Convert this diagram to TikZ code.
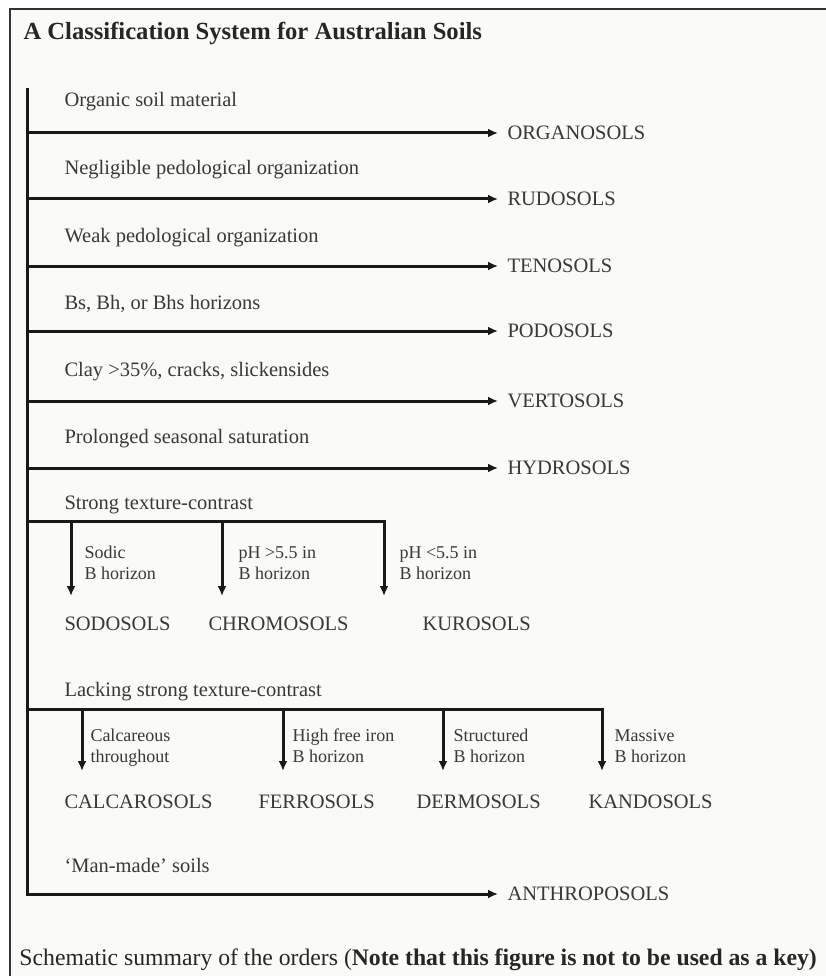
\documentclass[tikz,border=0pt]{standalone}
\usepackage{fontspec}
\setmainfont{Liberation Serif}
\usetikzlibrary{arrows.meta,positioning}
\definecolor{paper}{HTML}{FAFAF6}
\definecolor{ink}{HTML}{383838}

\begin{document}
\begin{tikzpicture}[x=1pt, y=-1pt, line width=3pt, draw=black!90, >={Latex[length=10pt,width=9pt]},
    crit/.style = {anchor=base west, inner sep=0pt, text=ink, font=\fontsize{20.5}{24}\selectfont},
    order/.style = {anchor=west, inner xsep=8pt, inner ysep=0pt, text=ink, font=\fontsize{20.5}{24}\selectfont},
    soil/.style = {anchor=base west, inner sep=0pt, text=ink, font=\fontsize{20.5}{24}\selectfont},
    sub/.style = {anchor=base west, inner sep=0pt, align=left, text=ink, font=\fontsize{18}{20.5}\selectfont}]
    \useasboundingbox (0,0) rectangle (826,976);
    \fill[white] (0,0) rectangle (826,976);
    \filldraw[fill=paper, draw=black!80, line width=2.4pt] (10,9) rectangle (840,990);

    \node[anchor=base west, inner sep=0pt, text=black!85, font=\bfseries\fontsize{24.6}{29}\selectfont] (title) at (22,40) {A Classification System for Australian Soils};

    \coordinate (top) at (27,88);
    \coordinate (bot) at (27,894);

    \node[crit] (c_1) at (63,107) {Organic soil material};
    \node[order] (o_1) at (498,133) {ORGANOSOLS};
    \node[crit] (c_2) at (63,175) {Negligible pedological organization};
    \node[order] (o_2) at (498,199) {RUDOSOLS};
    \node[crit] (c_3) at (63,243) {Weak pedological organization};
    \node[order] (o_3) at (498,266) {TENOSOLS};
    \node[crit] (c_4) at (63,309) {Bs, Bh, or Bhs horizons};
    \node[order] (o_4) at (498,331) {PODOSOLS};
    \node[crit] (c_5) at (63,376) {Clay >35\%, cracks, slickensides};
    \node[order] (o_5) at (498,401) {VERTOSOLS};
    \node[crit] (c_6) at (63,443) {Prolonged seasonal saturation};
    \node[order] (o_6) at (498,468) {HYDROSOLS};

    \draw[->] (o_1 -| top) -- (o_1);
    \draw[->] (o_2 -| top) -- (o_2);
    \draw[->] (o_3 -| top) -- (o_3);
    \draw[->] (o_4 -| top) -- (o_4);
    \draw[->] (o_5 -| top) -- (o_5);
    \draw[->] (o_6 -| top) -- (o_6);

    % strong texture-contrast
    \node[crit] (c_7) at (63,509) {Strong texture-contrast};
    \coordinate (s_0) at (27,521);
    \coordinate (s_1) at (71,596);
    \coordinate (s_2) at (222,596);
    \coordinate (s_3) at (384,596);
    \draw[->] (s_0) -| (s_3);
    \draw[->] (s_1 |- s_0) -- (s_1);
    \draw[->] (s_2 |- s_0) -- (s_2);
    \node[sub] (d_1) at (83,579) {Sodic\\B horizon};
    \node[sub] (d_2) at (237,579) {pH >5.5 in\\B horizon};
    \node[sub] (d_3) at (398,579) {pH <5.5 in\\B horizon};
    \node[soil] (sodo) at (63,630) {SODOSOLS};
    \node[soil] (chromo) at (207,630) {CHROMOSOLS};
    \node[soil] (kuro) at (421,630) {KUROSOLS};

    % lacking strong texture-contrast
    \node[crit] (c_8) at (63,696) {Lacking strong texture-contrast};
    \coordinate (l_0) at (27,709);
    \coordinate (l_1) at (82,771);
    \coordinate (l_2) at (283,771);
    \coordinate (l_3) at (443,771);
    \coordinate (l_4) at (602,771);
    \draw[->] (l_0) -| (l_4);
    \draw[->] (l_1 |- l_0) -- (l_1);
    \draw[->] (l_2 |- l_0) -- (l_2);
    \draw[->] (l_3 |- l_0) -- (l_3);
    \node[sub] (e_1) at (89,762) {Calcareous\\throughout};
    \node[sub] (e_2) at (291,762) {High free iron\\B horizon};
    \node[sub] (e_3) at (452,762) {Structured\\B horizon};
    \node[sub] (e_4) at (613,762) {Massive\\B horizon};
    \node[soil] (calca) at (63,808) {CALCAROSOLS};
    \node[soil] (ferro) at (257,808) {FERROSOLS};
    \node[soil] (dermo) at (415,808) {DERMOSOLS};
    \node[soil] (kando) at (587,808) {KANDOSOLS};

    \node[crit] (c_9) at (63,872) {`Man-made' soils};
    \node[order] (o_9) at (498,894) {ANTHROPOSOLS};
    \draw[->] (top) -- (bot) -- (o_9);

    \node[anchor=base west, inner sep=0pt, text=black!85, font=\fontsize{23.7}{28}\selectfont] (caption) at (18,965) {Schematic summary of the orders (\textbf{Note that this figure is not to be used as a key)}};
\end{tikzpicture}
\end{document}
